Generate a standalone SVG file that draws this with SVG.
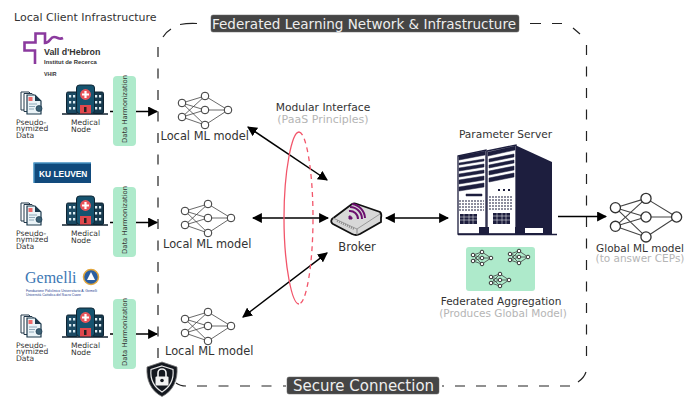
<svg xmlns="http://www.w3.org/2000/svg" xmlns:xlink="http://www.w3.org/1999/xlink" width="694" height="397" viewBox="0 0 694 397">
<style>
text{font-family:"DejaVu Sans",Verdana,sans-serif;fill:#333}
.lbl{font-size:10.500px}
.ml{font-size:11.400px}
.sm{font-size:7.600px}
.grey{fill:#b5b5b5;font-size:10.500px}
.conn{fill:none;stroke:#000;stroke-width:1.500}
.harm{fill:#aeeacb}
.vt{font-size:6.800px}
.edge{stroke:#444;stroke-width:.8;fill:none}
.n{fill:#fff;stroke:#333;stroke-width:1}
.banner{fill:#454545;stroke:#666;stroke-width:.5}
.bt{fill:#eee}
.dash{fill:none;stroke:#222;stroke-width:1.200;stroke-dasharray:10 11.500}
.srv{fill:#1d1e3e;stroke:#1d1e3e;stroke-width:.5}
</style>
<defs>
<marker id="ah" markerWidth="10" markerHeight="10" refX="8" refY="4.500" orient="auto-start-reverse" markerUnits="userSpaceOnUse" viewBox="0 0 9 9"><path d="M0 0L9 4.500L0 9z" fill="#000"/></marker>
<g id="net">
<path class="edge" d="M-23-7L0-14M-23-7L0 0M-23-7L0 15M-23 7L0-14M-23 7L0 0M-23 7L0 15M0-14L23 0M0 0L23 0M0 15L23 0"/>
<circle class="n" cx="-23" cy="-7" r="3.800"/><circle class="n" cx="-23" cy="7" r="3.800"/><circle class="n" cx="0" cy="-14" r="3.800"/><circle class="n" cx="0" cy="0" r="3.800"/><circle class="n" cx="0" cy="15" r="3.800"/><circle class="n" cx="23" cy="0" r="3.800"/>
</g>
<g id="hosp">
<path d="M62 114H108" stroke="#10202e" stroke-width="1.400"/>
<rect x="66.500" y="92" width="11" height="21.500" rx="1.500" fill="#1c4a63" stroke="#0e2433" stroke-width="1"/><rect x="92.500" y="92" width="11" height="21.500" rx="1.500" fill="#16394d" stroke="#0e2433" stroke-width="1"/>
<rect x="76.500" y="85" width="18" height="28.500" rx="3" fill="#16536f" stroke="#0e2433" stroke-width="1"/>
<circle cx="85.500" cy="94.500" r="5.400" fill="#e9545a"/><path d="M85.500 91v7M82 94.500h7" stroke="#fff" stroke-width="2.200"/>
<rect x="80" y="105" width="11" height="8.500" fill="#e0474c"/><rect x="84" y="107" width="2.500" height="5" fill="#222"/>
<g fill="#dcecf2"><rect x="69" y="95" width="2.200" height="2.500"/><rect x="73" y="95" width="2.200" height="2.500"/><rect x="69" y="101" width="2.200" height="2.500"/><rect x="73" y="101" width="2.200" height="2.500"/><rect x="69" y="107" width="2.200" height="2.500"/><rect x="73" y="107" width="2.200" height="2.500"/><rect x="95" y="95" width="2.200" height="2.500"/><rect x="99" y="95" width="2.200" height="2.500"/><rect x="95" y="101" width="2.200" height="2.500"/><rect x="99" y="101" width="2.200" height="2.500"/><rect x="95" y="107" width="2.200" height="2.500"/><rect x="99" y="107" width="2.200" height="2.500"/></g>
</g>
<g id="doc">
<path d="M21 92h8l6 6v12H21z" fill="#fff" stroke="#23384a" stroke-width="1"/>
<path d="M24 93.500h8l6 6v12H24z" fill="#fff" stroke="#23384a" stroke-width="1"/>
<path d="M27 95h8l6 6v13H27z" fill="#eaf3f7" stroke="#1d3a4d" stroke-width="1.200"/>
<path d="M35 95v6h6z" fill="#1d3a4d"/>
<rect x="28.500" y="97" width="4" height="4" fill="#ef6a6a"/>
<path d="M29 104h8M29 106.500h6M29 109h5" stroke="#7896a8" stroke-width=".8"/>
<circle cx="39" cy="108.500" r="3" fill="#3d6276" stroke="#1d3a4d" stroke-width=".7"/>
</g>
<g id="minin"><path class="edge" d="M-9-3L0-6M-9-3L0 0M-9-3L0 6M-9 3L0-6M-9 3L0 0M-9 3L0 6M0-6L9 0M0 0L9 0M0 6L9 0"/><circle class="n" cx="-9" cy="-3" r="1.800" stroke-width=".6"/><circle class="n" cx="-9" cy="3" r="1.800" stroke-width=".6"/><circle class="n" cx="0" cy="-6" r="1.800" stroke-width=".6"/><circle class="n" cx="0" cy="0" r="1.800" stroke-width=".6"/><circle class="n" cx="0" cy="6" r="1.800" stroke-width=".6"/><circle class="n" cx="9" cy="0" r="1.800" stroke-width=".6"/></g>
</defs>

<g id="connectors">
<path class="dash" style="stroke-dasharray:none" d="M163 37Q166 32 171 29M180 24.500Q188 23 197 23.500M530 23.500H541M552 23.500H562M573 28L580 34"/>
<path class="dash" d="M158 47V365"/>
<path class="dash" d="M586.500 45V362"/>
<path class="dash" style="stroke-dasharray:none" d="M586 372Q584 378 578 382"/>
<path class="dash" style="stroke-dasharray:10 11" d="M570 386H442"/>
<path class="dash" d="M197 386H286"/>
<path class="dash" style="stroke-dasharray:none" d="M176 383Q180 386 186 386"/>
<path class="conn" d="M110 111.500H114"/><path class="conn" d="M136 111.500H157" marker-end="url(#ah)"/>
<path class="conn" d="M110 222.500H114"/><path class="conn" d="M136 222.500H157" marker-end="url(#ah)"/>
<path class="conn" d="M110 334H114"/><path class="conn" d="M136 334H157" marker-end="url(#ah)"/>
<path class="conn" d="M248 127L327 180" marker-start="url(#ah)" marker-end="url(#ah)"/>
<path class="conn" d="M253 218H328" marker-start="url(#ah)" marker-end="url(#ah)"/>
<path class="conn" d="M243 317L327 253" marker-start="url(#ah)" marker-end="url(#ah)"/>
<path class="conn" d="M386 218H448" marker-start="url(#ah)" marker-end="url(#ah)"/>
<path class="conn" d="M558 216.500H606" marker-end="url(#ah)"/>
<path d="M299 132C292 132 284 170 284 218C284 266 292 304 299 304" fill="none" stroke="#f2556a" stroke-width="1.300"/>
<path d="M299 132C306 132 313 170 313 218C313 266 306 304 299 304" fill="none" stroke="#f2556a" stroke-width="1.300" stroke-dasharray="5 4"/>
</g>

<text x="14" y="21" style="font-size:11px">Local Client Infrastructure</text>

<g id="logo-vhir">
<path d="M35 64V50.500H24.500V42.500H35.500V33.500H45V43C50 43 50 37 54 37S59 40 63 38" fill="none" stroke="#8b3a9e" stroke-width="2.600"/>
<text x="44" y="55" style="font-family:'Liberation Sans',sans-serif;font-size:8.900px;font-weight:bold">Vall d'Hebron</text>
<text x="44" y="64" style="font-family:'Liberation Sans',sans-serif;font-size:5.900px;font-weight:bold">Institut de Recerca</text>
<text x="44" y="76" style="font-family:'Liberation Sans',sans-serif;font-size:5.200px;font-weight:bold">VHIR</text>
</g>
<g id="logo-kul">
<rect x="33.500" y="162.500" width="57.500" height="20.500" fill="#114a7c"/><path d="M33.500 163H91M34 163V183" stroke="#5cb0e0" stroke-width="1"/>
<text x="39" y="177" style="font-family:'Liberation Sans',sans-serif;font-size:8.400px;font-weight:bold;fill:#fff">KU LEUVEN</text>
</g>
<g id="logo-gemelli">
<text x="25" y="283" style="font-family:'Liberation Serif',serif;font-size:16px;fill:#3c78b4">Gemelli</text>
<circle cx="91" cy="277" r="7.500" fill="#2b5ea0" stroke="#e2a63c" stroke-width="1.500"/>
<path d="M87 280L91 272L95 280z" fill="#fff"/>
<text x="26" y="292" textLength="71" style="font-family:'Liberation Sans',sans-serif;font-size:3.400px;fill:#24408f">Fondazione Policlinico Universitario A. Gemelli</text>
<text x="26" y="295.500" textLength="55" style="font-family:'Liberation Sans',sans-serif;font-size:3.400px;fill:#24408f">Università Cattolica del Sacro Cuore</text>
</g>

<g id="client-1">
<use xlink:href="#doc"/><use xlink:href="#hosp"/>
<text class="sm" y="124.500"><tspan x="16">Pseudo-</tspan><tspan x="16" dy="6.300">nymized</tspan><tspan x="16" dy="6.700">Data</tspan></text>
<text class="sm" y="125"><tspan x="71">Medical</tspan><tspan x="71" dy="7">Node</tspan></text>
<rect class="harm" x="113" y="76" width="23" height="70" rx="4"/>
<text class="vt" transform="translate(127,143) rotate(-90)">Data Harmonization</text>
</g>
<g id="client-2">
<use xlink:href="#doc" y="111"/><use xlink:href="#hosp" y="111"/>
<text class="sm" y="235.500"><tspan x="16">Pseudo-</tspan><tspan x="16" dy="6.300">nymized</tspan><tspan x="16" dy="6.700">Data</tspan></text>
<text class="sm" y="236"><tspan x="71">Medical</tspan><tspan x="71" dy="7">Node</tspan></text>
<rect class="harm" x="113" y="187" width="23" height="70" rx="4"/>
<text class="vt" transform="translate(127,254) rotate(-90)">Data Harmonization</text>
</g>
<g id="client-3">
<use xlink:href="#doc" y="223"/><use xlink:href="#hosp" y="223"/>
<text class="sm" y="347.500"><tspan x="16">Pseudo-</tspan><tspan x="16" dy="6.300">nymized</tspan><tspan x="16" dy="6.700">Data</tspan></text>
<text class="sm" y="348"><tspan x="71">Medical</tspan><tspan x="71" dy="7">Node</tspan></text>
<rect class="harm" x="113" y="299" width="23" height="70" rx="4"/>
<text class="vt" transform="translate(127,366) rotate(-90)">Data Harmonization</text>
</g>

<g id="ml-1"><use xlink:href="#net" transform="translate(205,110)"/><text x="160.500" y="140" class="ml">Local ML model</text></g>
<g id="ml-2"><use xlink:href="#net" transform="translate(208,218)"/><text x="163" y="248" class="ml">Local ML model</text></g>
<g id="ml-3"><use xlink:href="#net" transform="translate(208,326)"/><text x="165" y="355" class="ml">Local ML model</text></g>

<g id="interface"><text x="323" y="111" text-anchor="middle" style="font-size:10.700px">Modular Interface</text><text x="323" y="123" text-anchor="middle" class="grey" style="font-size:11px">(PaaS Principles)</text></g>

<g id="broker">
<path d="M332 219L352 204Q354 203 357 204L380 212Q382 214 381 218V222L360 234Q356 236 352 234L333 224Q330 222 332 219z" fill="#d8d8d8" stroke="#111" stroke-width="1.800"/>
<path d="M333 218L357 229L380 214" fill="none" stroke="#999" stroke-width="1"/>
<path d="M357 229V235" stroke="#888" stroke-width="1"/>
<path d="M348 219L349 214A12 12 0 0 1 362 219L365 219L351 209z" fill="none"/>
<path d="M349 216a2.500 2.500 0 0 1 3 3h-3z" fill="#6b0f6e" stroke="#6b0f6e"/>
<path d="M349 211A8 8 0 0 1 358 219M350 207A12 12 0 0 1 362 219M352 204A15 15 0 0 1 365 218" fill="none" stroke="#6b0f6e" stroke-width="2"/>
<path d="M337 221L354 229" stroke="#888" stroke-width="2" stroke-dasharray="1 1.200"/>
<text x="357" y="251" text-anchor="middle" style="font-size:11.500px">Broker</text>
</g>

<g id="server">
<text x="505.500" y="138" text-anchor="middle" style="font-size:10.600px">Parameter Server</text>
<path d="M515 145L552 162V234H515z" fill="#1d1e3e"/>
<path d="M458 156L486 150V234H458z" fill="#fff" stroke="#1d1e3e" stroke-width="1.300"/>
<path d="M487 151L516 145V234H487z" fill="#fff" stroke="#1d1e3e" stroke-width="1.300"/>
<path class="srv" d="M459 156L485 151v4L459 160zM459 163L484 159v2L459 165zM459 168L484 164v3L459 171zM459 174L484 170v3L459 177zM459 180L484 176v4L459 184zM459 187L484 183v4L459 191zM466 194h16v2h-16z"/>
<path class="srv" d="M488 152L515 146v4L488 156zM489 159L514 154v3L489 162zM489 165L514 160v3L489 168zM489 171L514 166v4L489 175zM489 178L514 173v4L489 182z"/>
<path d="M459 201H484M459 204H484M459 207H484M459 210H484M489 197H513M489 200H513M489 203H513M489 206H513M489 209H513" stroke="#1d1e3e" stroke-width="1.200" stroke-dasharray="2 1"/>
<rect x="460" y="214" width="17" height="10" fill="#1d1e3e"/><rect x="493" y="213" width="17" height="11" fill="#1d1e3e"/>
<path d="M460 217H477M460 220H477M464 214V224M469 214V224M473 214V224M493 216H510M493 220H510M497 213V224M502 213V224M506 213V224" stroke="#fff" stroke-width=".5"/>
<path d="M498 189h2v2h-2zM503 189h2v2h-2zM508 189h2v2h-2z" fill="#1d1e3e"/>
<path d="M458 234.500H557" stroke="#1d1e3e" stroke-width="1.500"/>
<rect x="479" y="227" width="10" height="7.500" fill="#1d1e3e"/><rect x="515" y="227" width="6" height="7" fill="#1d1e3e"/><rect x="525" y="228" width="18" height="5" fill="#fff"/>
</g>

<g id="aggregation">
<rect class="harm" x="466" y="247" width="69" height="44" rx="3"/>
<use xlink:href="#minin" transform="translate(482,258)"/>
<use xlink:href="#minin" transform="translate(519,257)"/>
<use xlink:href="#minin" transform="translate(500,280)"/>
<text x="501" y="305" text-anchor="middle" class="lbl">Federated Aggregation</text>
<text x="503" y="317" text-anchor="middle" class="grey">(Produces Global Model)</text>
</g>

<g id="global"><use xlink:href="#net" transform="translate(646,217) scale(1.330)"/>
<text x="640" y="252" text-anchor="middle" class="lbl">Global ML model</text><text x="640" y="262" text-anchor="middle" class="grey">(to answer CEPs)</text></g>

<g id="title-fed"><rect class="banner" x="211" y="15" width="308" height="17" rx="2"/><text x="212" y="29" class="bt" style="font-size:13.500px" textLength="304" lengthAdjust="spacingAndGlyphs">Federated Learning Network &amp; Infrastructure</text></g>
<g id="title-sec"><rect class="banner" x="287" y="377" width="152" height="17" rx="2"/><text x="363.500" y="391" text-anchor="middle" class="bt" style="font-size:15px">Secure Connection</text></g>

<g id="lock">
<path d="M162 362L177 367C178 380 173 391 162 396.500C151 391 146 380 147 367z" fill="#14181f" stroke="#777" stroke-width=".8"/>
<path d="M162 366L173 369.500C174 379 170 387 162 392C154 387 150 379 151 369.500z" fill="#14181f" stroke="#e8e8e8" stroke-width="1.200"/>
<path d="M158 377V373a4 4 0 0 1 8 0V377" fill="none" stroke="#f2f2f2" stroke-width="1.600"/>
<rect x="155.500" y="376.500" width="13" height="9" rx="1" fill="#f2f2f2"/>
<circle cx="162" cy="380.500" r="1.800" fill="#14181f"/>
</g>
</svg>
